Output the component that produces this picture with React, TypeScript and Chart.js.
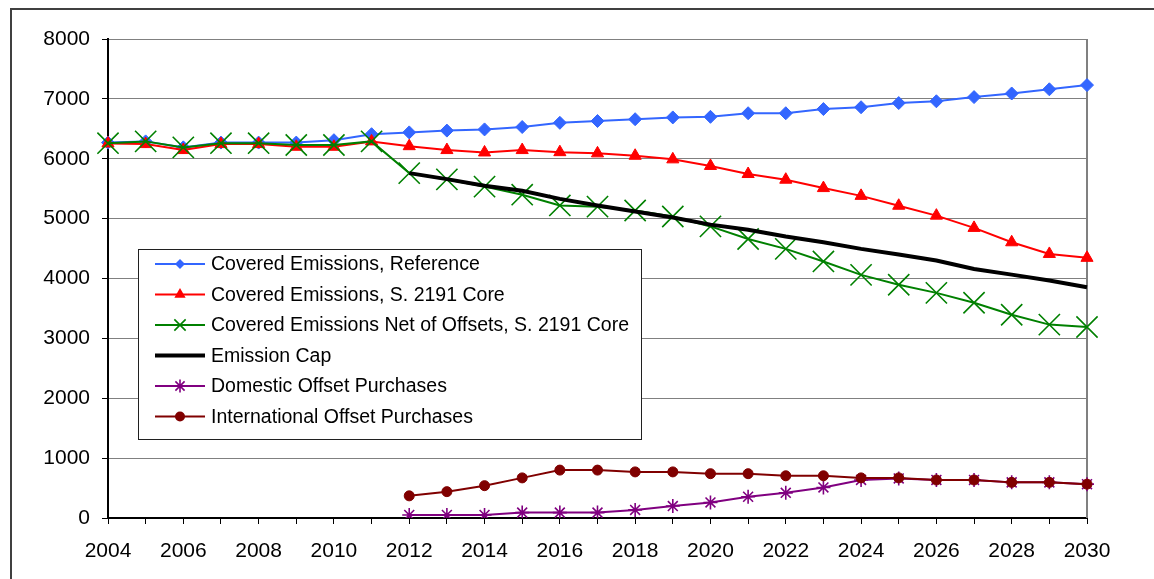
import React, { useEffect, useRef } from 'react';
import { Chart, registerables } from 'chart.js';

Chart.register(...registerables);

const years = [
  '2004', '2005', '2006', '2007', '2008', '2009', '2010', '2011', '2012', '2013',
  '2014', '2015', '2016', '2017', '2018', '2019', '2020', '2021', '2022', '2023',
  '2024', '2025', '2026', '2027', '2028', '2029', '2030',
];

const referenceEmissions = [
  6270, 6290, 6190, 6270, 6270, 6270, 6310, 6410, 6440, 6470, 6490, 6530, 6600, 6630,
  6660, 6690, 6700, 6760, 6760, 6830, 6860, 6930, 6960, 7030, 7090, 7160, 7230,
];

const coreEmissions = [
  6255, 6245, 6145, 6245, 6245, 6200, 6200, 6290, 6210, 6145, 6105, 6145, 6110, 6090,
  6050, 5990, 5880, 5745, 5650, 5510, 5380, 5215, 5050, 4845, 4605, 4410, 4345,
];

const netOfOffsets = [
  6260, 6290, 6190, 6260, 6260, 6230, 6230, 6290, 5760, 5655, 5535, 5400, 5220, 5200,
  5135, 5035, 4870, 4660, 4495, 4285, 4060, 3895, 3760, 3595, 3395, 3230, 3190,
];

const emissionCap = [
  null, null, null, null, null, null, null, null, 5760, 5660, 5550, 5465, 5330, 5220,
  5120, 5020, 4900, 4815, 4700, 4605, 4495, 4400, 4300, 4160, 4065, 3965, 3855,
];

const domesticOffsets = [
  null, null, null, null, null, null, null, null, 50, 50, 50, 90, 90, 90,
  135, 200, 260, 355, 420, 510, 635, 660, 635, 635, 595, 595, 565,
];

const internationalOffsets = [
  null, null, null, null, null, null, null, null, 370, 440, 540, 670, 800, 800,
  770, 770, 740, 740, 705, 705, 670, 670, 635, 635, 595, 595, 565,
];

const seriesLabels = [
  'Covered Emissions, Reference',
  'Covered Emissions, S. 2191 Core',
  'Covered Emissions Net of Offsets, S. 2191 Core',
  'Emission Cap',
  'Domestic Offset Purchases',
  'International Offset Purchases',
];

const Y_MIN = 0;
const Y_MAX = 8000;
const Y_STEP = 1000;

const FONT = '"Liberation Sans", Arial, sans-serif';

type Marker = 'rectRot' | 'triangle' | 'crossRot' | 'star' | 'circle' | 'none';

const seriesStyles: { color: string; marker: Marker; radius: number; legendRadius: number; width: number; pointWidth: number }[] = [
  { color: '#3366FF', marker: 'rectRot', radius: 6.5, legendRadius: 5, width: 2, pointWidth: 1 },
  { color: '#FF0000', marker: 'triangle', radius: 7, legendRadius: 6.5, width: 2, pointWidth: 1 },
  { color: '#008000', marker: 'crossRot', radius: 15, legendRadius: 8, width: 2, pointWidth: 1.6 },
  { color: '#000000', marker: 'none', radius: 0, legendRadius: 0, width: 4, pointWidth: 0 },
  { color: '#800080', marker: 'star', radius: 7, legendRadius: 6.5, width: 2, pointWidth: 1.6 },
  { color: '#800000', marker: 'circle', radius: 5, legendRadius: 5, width: 2, pointWidth: 1 },
];

function drawMarker(ctx: CanvasRenderingContext2D, m: Marker, x: number, y: number, r: number, color: string, lw: number) {
  if (m === 'none') return;
  ctx.save();
  ctx.fillStyle = color;
  ctx.strokeStyle = color;
  ctx.lineWidth = lw;
  ctx.beginPath();
  if (m === 'rectRot') {
    ctx.moveTo(x - r, y);
    ctx.lineTo(x, y - r);
    ctx.lineTo(x + r, y);
    ctx.lineTo(x, y + r);
    ctx.closePath();
    ctx.fill();
  } else if (m === 'triangle') {
    for (let i = 0; i < 3; i++) {
      const a = (i * 2 * Math.PI) / 3;
      const px = x + Math.sin(a) * r;
      const py = y - Math.cos(a) * r;
      if (i === 0) ctx.moveTo(px, py);
      else ctx.lineTo(px, py);
    }
    ctx.closePath();
    ctx.fill();
  } else if (m === 'circle') {
    ctx.arc(x, y, r, 0, Math.PI * 2);
    ctx.fill();
  } else if (m === 'crossRot') {
    const d = r * Math.SQRT1_2;
    ctx.moveTo(x - d, y - d);
    ctx.lineTo(x + d, y + d);
    ctx.moveTo(x + d, y - d);
    ctx.lineTo(x - d, y + d);
    ctx.stroke();
  } else if (m === 'star') {
    const d = r * Math.SQRT1_2;
    ctx.moveTo(x - d, y - d);
    ctx.lineTo(x + d, y + d);
    ctx.moveTo(x + d, y - d);
    ctx.lineTo(x - d, y + d);
    ctx.moveTo(x, y - r);
    ctx.lineTo(x, y + r);
    ctx.moveTo(x - r, y);
    ctx.lineTo(x + r, y);
    ctx.stroke();
  }
  ctx.restore();
}

const framePlugin = {
  id: 'frame',
  beforeDraw(chart: any) {
    const ctx: CanvasRenderingContext2D = chart.ctx;
    ctx.save();
    ctx.fillStyle = '#ffffff';
    ctx.fillRect(0, 0, chart.width, chart.height);
    ctx.strokeStyle = '#404040';
    ctx.lineWidth = 2;
    ctx.beginPath();
    ctx.moveTo(11, chart.height + 5);
    ctx.lineTo(11, 9);
    ctx.lineTo(chart.width + 5, 9);
    ctx.stroke();
    ctx.restore();
  },
  beforeDatasetsDraw(chart: any) {
    const ctx: CanvasRenderingContext2D = chart.ctx;
    const a = chart.chartArea;
    ctx.save();
    ctx.strokeStyle = '#808080';
    ctx.lineWidth = 2;
    ctx.beginPath();
    ctx.moveTo(a.right, a.top);
    ctx.lineTo(a.right, a.bottom);
    ctx.stroke();
    ctx.restore();
  },
};

const legendPlugin = {
  id: 'boxLegend',
  afterDraw(chart: any) {
    const ctx: CanvasRenderingContext2D = chart.ctx;
    const left = 138.5;
    const top = 249.5;
    const w = 503;
    const h = 190;
    ctx.save();
    ctx.fillStyle = '#ffffff';
    ctx.fillRect(left, top, w, h);
    ctx.strokeStyle = '#202020';
    ctx.lineWidth = 1;
    ctx.strokeRect(left, top, w, h);
    ctx.font = `19.5px ${FONT}`;
    ctx.textBaseline = 'middle';
    ctx.textAlign = 'left';
    seriesLabels.forEach((label, i) => {
      const s = seriesStyles[i];
      const y = 264 + i * 30.5;
      ctx.strokeStyle = s.color;
      ctx.lineWidth = s.width;
      ctx.beginPath();
      ctx.moveTo(155, y);
      ctx.lineTo(205, y);
      ctx.stroke();
      drawMarker(ctx, s.marker, 180, y, s.legendRadius, s.color, s.pointWidth);
      ctx.fillStyle = '#000000';
      ctx.fillText(label, 211, y + 1);
    });
    ctx.restore();
  },
};

export default function App() {
  const ref = useRef<HTMLCanvasElement>(null);

  useEffect(() => {
    const seriesData = [referenceEmissions, coreEmissions, netOfOffsets, emissionCap, domesticOffsets, internationalOffsets];
    const datasets = seriesData.map((data, i) => {
      const s = seriesStyles[i];
      return {
        label: seriesLabels[i],
        data,
        borderColor: s.color,
        backgroundColor: s.color,
        borderWidth: s.width,
        pointStyle: s.marker === 'none' ? false : s.marker,
        pointRadius: s.radius,
        pointBorderWidth: s.pointWidth,
        pointBorderColor: s.color,
        pointBackgroundColor: s.color,
        tension: 0,
        spanGaps: false,
        order: 5 - i,
      };
    });

    const chart = new Chart(ref.current as HTMLCanvasElement, {
      type: 'line',
      data: { labels: years, datasets: datasets as any },
      options: {
        responsive: false,
        animation: false,
        devicePixelRatio: 1,
        events: [],
        layout: { padding: { left: 0, top: 39, right: 67, bottom: 0 } },
        plugins: {
          legend: { display: false },
          tooltip: { enabled: false },
          title: { display: false },
        },
        scales: {
          x: {
            type: 'category',
            offset: false,
            afterFit: (s: any) => {
              s.height = 61;
            },
            border: { display: true, color: '#000000', width: 2 },
            grid: {
              display: true,
              drawOnChartArea: false,
              drawTicks: true,
              tickLength: 6,
              tickColor: '#000000',
              tickWidth: 1,
            },
            ticks: {
              autoSkip: false,
              maxRotation: 0,
              minRotation: 0,
              padding: 15,
              color: '#000000',
              font: { family: FONT, size: 21 },
              callback: (_v: any, idx: number) => (idx % 2 === 0 ? years[idx] : ''),
            },
          },
          y: {
            min: Y_MIN,
            max: Y_MAX,
            afterFit: (s: any) => {
              s.width = 108;
            },
            border: { display: true, color: '#000000', width: 2 },
            grid: {
              color: '#808080',
              lineWidth: 1,
              drawTicks: true,
              tickLength: 6,
              tickColor: '#000000',
            },
            ticks: {
              stepSize: Y_STEP,
              padding: 12,
              color: '#000000',
              font: { family: FONT, size: 21 },
              callback: (v: any) => String(v),
            },
          },
        },
      },
      plugins: [framePlugin, legendPlugin],
    });
    return () => chart.destroy();
  }, []);

  return (
    <div style={{ position: 'fixed', left: 0, top: 0, width: 1154, height: 579, background: '#ffffff' }}>
      <canvas ref={ref} width={1154} height={579} style={{ display: 'block', width: 1154, height: 579 }} />
    </div>
  );
}
